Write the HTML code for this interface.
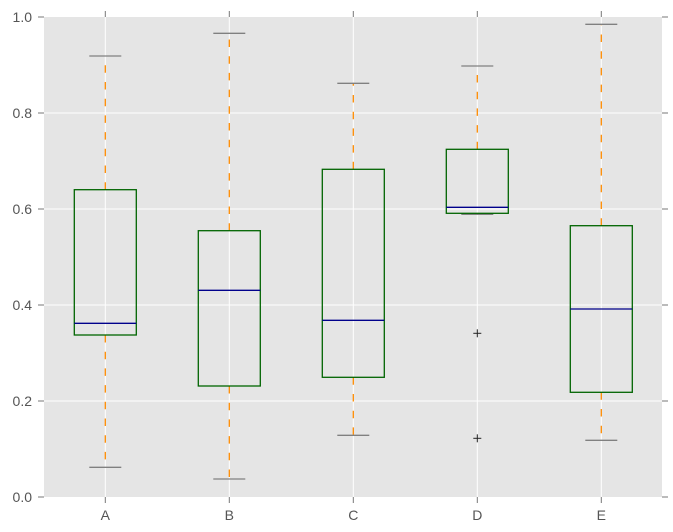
<!DOCTYPE html>
<html><head><meta charset="utf-8"><style>
html,body{margin:0;padding:0;background:#fff;}
svg{display:block;}
text{font-family:"Liberation Sans",sans-serif;font-size:14px;fill:#555;}
</style></head><body>
<svg width="673" height="532" viewBox="0 0 673 532" xmlns="http://www.w3.org/2000/svg">
<rect x="44" y="17" width="618" height="480" fill="#e5e5e5"/>
<g stroke="#fff" stroke-width="1">
<line x1="44" x2="662" y1="401" y2="401"/>
<line x1="44" x2="662" y1="305" y2="305"/>
<line x1="44" x2="662" y1="209" y2="209"/>
<line x1="44" x2="662" y1="113" y2="113"/>
<line x1="105.3" x2="105.3" y1="17" y2="497"/>
<line x1="229.3" x2="229.3" y1="17" y2="497"/>
<line x1="353.3" x2="353.3" y1="17" y2="497"/>
<line x1="477.3" x2="477.3" y1="17" y2="497"/>
<line x1="601.3" x2="601.3" y1="17" y2="497"/>
</g>
<g stroke="#777" stroke-width="1">
<line x1="38" x2="44" y1="497" y2="497"/><line x1="38" x2="44" y1="401" y2="401"/><line x1="38" x2="44" y1="305" y2="305"/><line x1="38" x2="44" y1="209" y2="209"/><line x1="38" x2="44" y1="113" y2="113"/><line x1="38" x2="44" y1="17" y2="17"/>
<line x1="662" x2="668" y1="497" y2="497"/><line x1="662" x2="668" y1="401" y2="401"/><line x1="662" x2="668" y1="305" y2="305"/><line x1="662" x2="668" y1="209" y2="209"/><line x1="662" x2="668" y1="113" y2="113"/><line x1="662" x2="668" y1="17" y2="17"/>
<line x1="105.3" x2="105.3" y1="11" y2="17"/><line x1="229.3" x2="229.3" y1="11" y2="17"/><line x1="353.3" x2="353.3" y1="11" y2="17"/><line x1="477.3" x2="477.3" y1="11" y2="17"/><line x1="601.3" x2="601.3" y1="11" y2="17"/>
<line x1="105.3" x2="105.3" y1="497" y2="503"/><line x1="229.3" x2="229.3" y1="497" y2="503"/><line x1="353.3" x2="353.3" y1="497" y2="503"/><line x1="477.3" x2="477.3" y1="497" y2="503"/><line x1="601.3" x2="601.3" y1="497" y2="503"/>
</g>
<g text-anchor="end">
<text x="32" y="502">0.0</text><text x="32" y="406">0.2</text><text x="32" y="310">0.4</text><text x="32" y="214">0.6</text><text x="32" y="118">0.8</text><text x="32" y="22">1.0</text>
</g>
<g text-anchor="middle">
<text x="105.3" y="520">A</text><text x="229.3" y="520">B</text><text x="353.3" y="520">C</text><text x="477.3" y="520">D</text><text x="601.3" y="520">E</text>
</g>
<g stroke="#ff8c00" stroke-width="1.3" stroke-dasharray="7.5 9.2" fill="none">
<line x1="105.3" x2="105.3" y1="189.7" y2="56"/><line x1="105.3" x2="105.3" y1="335" y2="467.3"/>
<line x1="229.3" x2="229.3" y1="230.7" y2="33.3"/><line x1="229.3" x2="229.3" y1="386" y2="479"/>
<line x1="353.3" x2="353.3" y1="169.3" y2="83.3"/><line x1="353.3" x2="353.3" y1="377.3" y2="435.3"/>
<line x1="477.3" x2="477.3" y1="149.3" y2="66"/>
<line x1="601.3" x2="601.3" y1="225.7" y2="24.3"/><line x1="601.3" x2="601.3" y1="392.3" y2="440.3"/>
</g>
<g stroke="#808080" stroke-width="1.3">
<line x1="89.3" x2="121.3" y1="56" y2="56"/><line x1="89.3" x2="121.3" y1="467.3" y2="467.3"/>
<line x1="213.3" x2="245.3" y1="33.3" y2="33.3"/><line x1="213.3" x2="245.3" y1="479" y2="479"/>
<line x1="337.3" x2="369.3" y1="83.3" y2="83.3"/><line x1="337.3" x2="369.3" y1="435.3" y2="435.3"/>
<line x1="461.3" x2="493.3" y1="66" y2="66"/><line x1="461.3" x2="493.3" y1="214.3" y2="214.3"/>
<line x1="585.3" x2="617.3" y1="24.3" y2="24.3"/><line x1="585.3" x2="617.3" y1="440.3" y2="440.3"/>
</g>
<g stroke="#006400" stroke-width="1.3" fill="none">
<rect x="74.3" y="189.7" width="62" height="145.3"/>
<rect x="198.3" y="230.7" width="62" height="155.3"/>
<rect x="322.3" y="169.3" width="62" height="208"/>
<rect x="446.3" y="149.3" width="62" height="64"/>
<rect x="570.3" y="225.7" width="62" height="166.6"/>
</g>
<g stroke="#00008b" stroke-width="1.3">
<line x1="74.3" x2="136.3" y1="323.3" y2="323.3"/>
<line x1="198.3" x2="260.3" y1="290.3" y2="290.3"/>
<line x1="322.3" x2="384.3" y1="320.3" y2="320.3"/>
<line x1="446.3" x2="508.3" y1="207.3" y2="207.3"/>
<line x1="570.3" x2="632.3" y1="309" y2="309"/>
</g>
<g stroke="#222" stroke-width="1">
<line x1="473.3" x2="481.3" y1="333.3" y2="333.3"/><line x1="477.3" x2="477.3" y1="329.3" y2="337.3"/>
<line x1="473.3" x2="481.3" y1="438.3" y2="438.3"/><line x1="477.3" x2="477.3" y1="434.3" y2="442.3"/>
</g>
</svg>
</body></html>
